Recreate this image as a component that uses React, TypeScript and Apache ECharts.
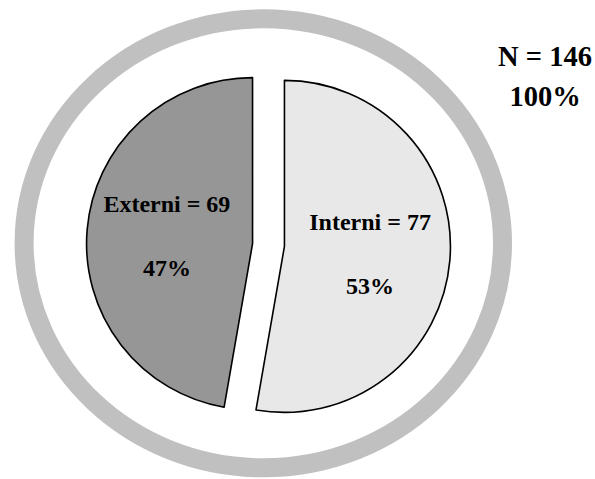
import React, { useEffect, useRef } from "react";
import * as echarts from "echarts";

const categories = ["Interni", "Externi"];
const counts = [77, 69];
const percents = ["53%", "47%"];
const sliceColors = ["#e8e8e8", "#969696"];
const totalLines = ["N = 146", "100%"];

const FONT = '"Liberation Serif", "Times New Roman", serif';

export default function App() {
  const ref = useRef<HTMLDivElement>(null);
  useEffect(() => {
    if (!ref.current) return;
    const chart = echarts.init(ref.current, undefined, { renderer: "svg" });
    const data = categories.map((name, i) => ({
      name,
      value: counts[i],
      selected: true,
      itemStyle: { color: sliceColors[i] },
      label: {
        formatter: `{a|${name} = ${counts[i]}}\n{a|${percents[i]}}`,
      },
    }));
    chart.setOption({
      animation: false,
      backgroundColor: "#ffffff",
      graphic: [
        {
          type: "ellipse",
          shape: { cx: 263.3, cy: 243.3, rx: 239.2, ry: 224.5 },
          style: { fill: "none", stroke: "#c0c0c0", lineWidth: 19 },
          silent: true,
          z: 0,
        },
        {
          type: "text",
          x: 545,
          y: 56,
          style: {
            text: totalLines[0],
            font: `bold 28.5px ${FONT}`,
            fill: "#000",
            align: "center",
            verticalAlign: "middle",
          },
        },
        {
          type: "text",
          x: 545,
          y: 96,
          style: {
            text: totalLines[1],
            font: `bold 28.5px ${FONT}`,
            fill: "#000",
            align: "center",
            verticalAlign: "middle",
          },
        },
      ],
      series: [
        {
          type: "pie",
          center: [268.5, 245],
          radius: 166,
          startAngle: 90,
          clockwise: true,
          selectedMode: "multiple",
          selectedOffset: 16,
          silent: true,
          z: 2,
          itemStyle: { borderColor: "#000", borderWidth: 1.6 },
          select: { itemStyle: { borderColor: "#000", borderWidth: 1.6 } },
          emphasis: { disabled: true },
          label: {
            show: true,
            position: "inside",
            color: "#000",
            rich: {
              a: {
                fontFamily: FONT,
                fontWeight: "bold",
                fontSize: 24,
                lineHeight: 64,
                color: "#000",
              },
            },
          },
          labelLine: { show: false },
          data,
        },
      ],
    });
    return () => chart.dispose();
  }, []);
  return (
    <div
      ref={ref}
      style={{ position: "absolute", left: 0, top: 0, width: 595, height: 479 }}
    />
  );
}
